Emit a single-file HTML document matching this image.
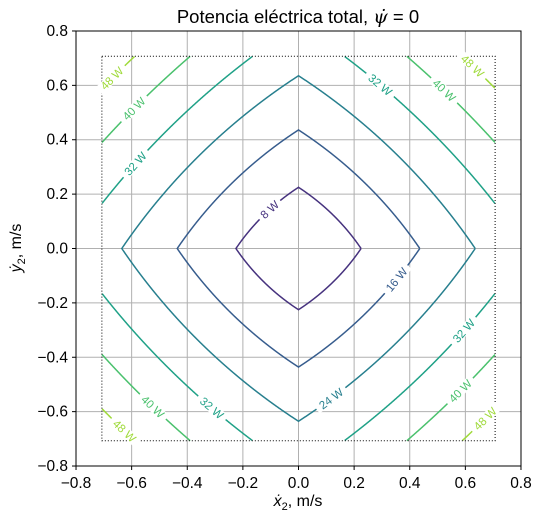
<!DOCTYPE html>
<html><head><meta charset="utf-8">
<style>
html,body{margin:0;padding:0;background:#fff;width:541px;height:520px;overflow:hidden;}
svg{display:block;font-family:"Liberation Sans","DejaVu Sans",sans-serif;}
</style></head>
<body>
<svg id="chart" width="541" height="520" viewBox="0 0 541 520" xmlns="http://www.w3.org/2000/svg">
<g id="grid"></g>
<g id="contours"></g>
<rect id="region-box" fill="none" stroke="#000" stroke-width="1" stroke-dasharray="1,2"/>
<g id="labels"></g>
<rect x="76" y="31" width="445" height="435" fill="none" stroke="#000" stroke-width="1"/>
<g id="ticks"></g>
<text x="298" y="23" text-anchor="middle" font-size="18.5">Potencia eléctrica total, <tspan font-family="DejaVu Serif" font-style="italic">ψ̇</tspan> = 0</text>
<text x="298" y="506" text-anchor="middle" font-size="16"><tspan font-style="italic">ẋ</tspan><tspan font-size="11" dy="4">2</tspan><tspan dy="-4">, m/s</tspan></text>
<text transform="translate(21,248) rotate(-90)" text-anchor="middle" font-size="16"><tspan font-style="italic">ẏ</tspan><tspan font-size="11" dy="4">2</tspan><tspan dy="-4">, m/s</tspan></text>
</svg>
<script>
const levels = [8, 16, 24, 32, 40, 48];
const levelColors = ['#46327e', '#365c8d', '#277f8e', '#1fa187', '#4ac16d', '#9fda3a'];
const tickValues = [-0.8, -0.6, -0.4, -0.2, 0.0, 0.2, 0.4, 0.6, 0.8];
const tickLabels = ['\u22120.8', '\u22120.6', '\u22120.4', '\u22120.2', '0.0', '0.2', '0.4', '0.6', '0.8'];
const domainLimit = 0.707;
const powerCoefA = 34.34;
const powerCoefB = 5.40;
const arcOffset = 1.975;
// labels: level value and angle (degrees, data-space) where label sits
const labelLevels = [8, 16, 24, 32, 32, 32, 32, 40, 40, 40, 40, 48, 48, 48, 48];
const labelAngles = [126, -18, -78, 152, 64, -27, -118, 139, 48, -132, -42, 137, 47, -133, -43];

const X0 = 298.5, XS = 278.1, Y0 = 248.5, YS = 271.9;
const sx = v => X0 + v * XS;
const sy = v => Y0 - v * YS;
const NS = 'http://www.w3.org/2000/svg';
function mk(tag, attrs, parent) {
  const e = document.createElementNS(NS, tag);
  for (const k in attrs) e.setAttribute(k, attrs[k]);
  parent.appendChild(e);
  return e;
}
const grid = document.getElementById('grid'), ticks = document.getElementById('ticks');
tickValues.forEach((v, i) => {
  const gx = mk('line', {x1: sx(v), x2: sx(v), y1: 31, y2: 466, stroke: '#b0b0b0', 'stroke-width': 1}, grid);
  
  
  const gy = mk('line', {x1: 76, x2: 521, y1: sy(v), y2: sy(v), stroke: '#b0b0b0', 'stroke-width': 1}, grid);
  
  
  mk('line', {x1: sx(v), x2: sx(v), y1: 466, y2: 470, stroke: '#000'}, ticks);
  mk('line', {x1: 72, x2: 76, y1: sy(v), y2: sy(v), stroke: '#000'}, ticks);
  const tx = mk('text', {x: sx(v), y: 488, 'text-anchor': 'middle', 'font-size': 15.5}, ticks);
  tx.textContent = tickLabels[i];
  
  
  const ty = mk('text', {x: 68, y: sy(v) + 5, 'text-anchor': 'end', 'font-size': 15.5}, ticks);
  ty.textContent = tickLabels[i];
  
  
});
const box = document.getElementById('region-box');
box.setAttribute('x', sx(-domainLimit)); box.setAttribute('y', sy(domainLimit));
box.setAttribute('width', sx(domainLimit) - sx(-domainLimit)); box.setAttribute('height', sy(-domainLimit) - sy(domainLimit));
// solve a r + b r^2 = L
function radiusFor(L) {
  return (-powerCoefA + Math.sqrt(powerCoefA * powerCoefA + 4 * powerCoefB * L)) / (2 * powerCoefB);
}
// point on contour of axis-radius r along polar direction th
function pointAt(r, th) {
  const c = Math.cos(th), sn = Math.sin(th);
  const ac = Math.abs(c), as = Math.abs(sn);
  const off = arcOffset * r;
  const R2 = (r + off) * (r + off) + off * off;
  const b = off * (ac + as);
  const u = -b + Math.sqrt(b * b - 2 * off * off + R2);
  return [u * c, u * sn];
}
const cg = document.getElementById('contours');
levels.forEach((L, i) => {
  const r = radiusFor(L);
  let d = '', pen = false;
  const N = 2880;
  for (let k = 0; k <= N; k++) {
    const p = pointAt(r, k / N * 2 * Math.PI);
    if (Math.abs(p[0]) <= domainLimit && Math.abs(p[1]) <= domainLimit) {
      d += (pen ? 'L' : 'M') + sx(p[0]).toFixed(2) + ',' + sy(p[1]).toFixed(2);
      pen = true;
    } else {
      pen = false;
    }
  }
  const path = mk('path', {d: d, fill: 'none', stroke: levelColors[i], 'stroke-width': 1.5}, cg);
  
  
});
const lg = document.getElementById('labels');
labelLevels.forEach((L, i) => {
  const r = radiusFor(L);
  const th = labelAngles[i] * Math.PI / 180;
  const p = pointAt(r, th), p2 = pointAt(r, th + 0.01);
  const x = sx(p[0]), y = sy(p[1]);
  let ang = Math.atan2(sy(p2[1]) - y, sx(p2[0]) - x) * 180 / Math.PI;
  if (ang > 90) ang -= 180;
  if (ang < -90) ang += 180;
  const g = mk('g', {transform: 'translate(' + x.toFixed(1) + ',' + y.toFixed(1) + ') rotate(' + ang.toFixed(1) + ')'}, lg);
  
  
  const w = L < 10 ? 28 : 36;
  mk('rect', {x: -w / 2, y: -5, width: w, height: 10, fill: '#fff'}, g);
  const t = mk('text', {x: 0, y: 4, 'text-anchor': 'middle', 'font-size': 11.5, fill: levelColors[levels.indexOf(L)]}, g);
  t.textContent = L + ' W';
});
</script>
</body></html>
